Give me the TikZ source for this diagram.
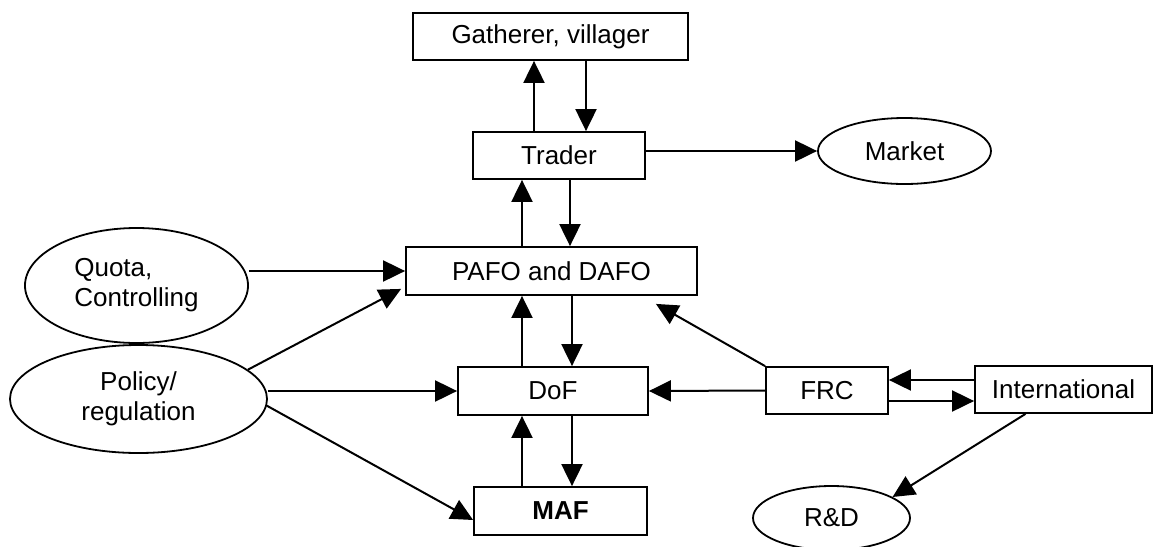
\documentclass[tikz,border=0pt]{standalone}
\usepackage{fontspec}
\setmainfont{Liberation Sans}
\usetikzlibrary{arrows.meta,shapes.geometric}
\begin{document}
\begin{tikzpicture}[x=0.5pt,y=-0.5pt,
  box/.style={draw,line width=0.9pt,rectangle,inner sep=0pt,font=\fontsize{13}{15}\selectfont},
  oval/.style={draw,line width=0.9pt,ellipse,inner sep=0pt,font=\fontsize{13}{15}\selectfont},
  arr/.style={line width=1pt,-{Triangle[length=11pt,width=10.5pt]}}]
\useasboundingbox (0,0) rectangle (1153,547);
% nodes
\node[box,minimum width=137.5pt,minimum height=23.5pt] (gath) at (550.5,36.5) {Gatherer, villager};
\node[box,minimum width=86pt,minimum height=23.5pt] (trader) at (559,155.5) {Trader};
\node[oval,minimum width=86.5pt,minimum height=33pt] (market) at (904.5,151) {Market};
\node[box,minimum width=145.5pt,minimum height=24pt] (pafo) at (551.5,271) {PAFO and DAFO};
\node[oval,minimum width=111.5pt,minimum height=57.5pt,align=left] (quota) at (136.5,285.5) {Quota,\\Controlling};
\node[oval,minimum width=128.5pt,minimum height=54pt,align=center] (policy) at (138.5,399) {Policy/\\regulation};
\node[box,minimum width=95pt,minimum height=24pt] (dof) at (553,391) {DoF};
\node[box,minimum width=86.5pt,minimum height=24pt,font=\fontsize{13}{15}\selectfont\bfseries] (maf) at (560.5,511) {MAF};
\node[box,minimum width=61pt,minimum height=23.5pt] (frc) at (827,390.5) {FRC};
\node[box,minimum width=88.5pt,minimum height=23.5pt] (intl) at (1063.5,389.5) {International};
\node[oval,minimum width=78.5pt,minimum height=32pt] (rd) at (831.5,518) {R\&D};
% helper columns
\coordinate (c522) at (522,0);
\coordinate (c534) at (534,0);
\coordinate (c586) at (586,0);
\coordinate (c570) at (570,0);
\coordinate (c572) at (572,0);
% vertical connectors
\draw[arr] (trader.north -| c534) -- (gath.south -| c534);
\draw[arr] (gath.south -| c586) -- (trader.north -| c586);
\draw[arr] (pafo.north -| c522) -- (trader.south -| c522);
\draw[arr] (trader.south -| c570) -- (pafo.north -| c570);
\draw[arr] (dof.north -| c522) -- (pafo.south -| c522);
\draw[arr] (pafo.south -| c572) -- (dof.north -| c572);
\draw[arr] (maf.north -| c522) -- (dof.south -| c522);
\draw[arr] (dof.south -| c572) -- (maf.north -| c572);
% other connectors
\draw[arr] (trader.east |- market.west) -- (market.west);
\draw[arr] (quota.east |- pafo.west) -- (pafo.west);
\draw[arr] (policy.15) -- ([xshift=-2pt,yshift=3.5pt]pafo.south west);
\draw[arr] (policy.east |- dof.west) -- (dof.west);
\draw[arr] (policy.-3) -- ([yshift=-4.5pt]maf.west);
\draw[arr] (frc.north west) -- ([xshift=-21pt,yshift=-4pt]pafo.south east);
\draw[arr] (frc.west) -- (dof.east);
\draw[arr] ([yshift=4.75pt]intl.west) -- ([yshift=4.75pt]intl.west -| frc.east);
\draw[arr] ([yshift=-5.25pt]frc.east) -- ([yshift=-5.25pt]frc.east -| intl.west);
\draw[arr] ([xshift=-19pt]intl.south) -- (rd.19);
\end{tikzpicture}
\end{document}
